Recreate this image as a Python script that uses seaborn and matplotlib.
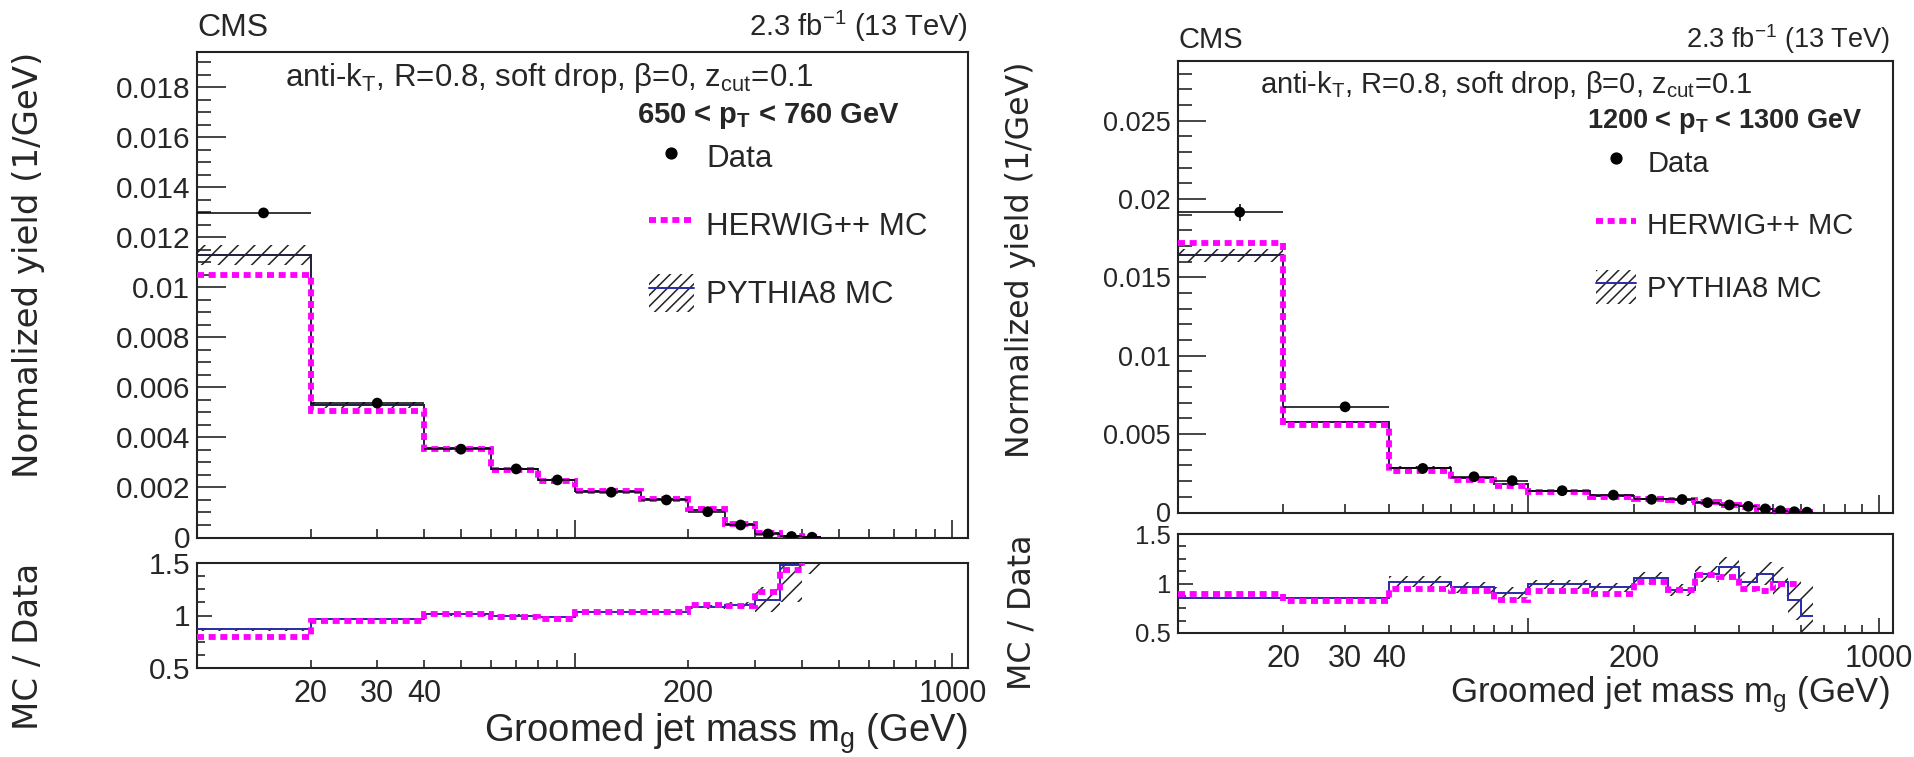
import numpy as np
import matplotlib
matplotlib.use("Agg")
import matplotlib.pyplot as plt
import seaborn as sns
from matplotlib.lines import Line2D
from matplotlib.patches import Patch
from matplotlib.font_manager import FontProperties
from matplotlib.ticker import FixedLocator, FuncFormatter, MultipleLocator, NullFormatter

# ---------------- data ----------------
edges_L = [10, 20, 40, 60, 80, 100, 150, 200, 250, 300, 350, 400, 450]
data_L = [0.01297, 0.00537, 0.00353, 0.00274, 0.00230, 0.00181, 0.00150, 0.00103, 0.00050, 0.00014, 0.00004, 0.00001]
data_err_L = [0.00008, 0.00004, 0.00003, 0.00003, 0.00002, 0.00002, 0.00002, 0.00002, 0.00001, 0.00001, 0.000005, 0.000003]
pythia_L = [0.01130, 0.00530, 0.00356, 0.00274, 0.00228, 0.00186, 0.00155, 0.00111, 0.00055, 0.00016, 0.00006, 0.00003]
pythia_band_L = [0.0004, 0.00012, 0.00005, 0.00004, 0.00004, 0.00003, 0.00003, 0.00003, 0.00002, 0.00002, 0.00001, 0.00001]
herwig_L = [0.01047, 0.00506, 0.00354, 0.00270, 0.00224, 0.00186, 0.00155, 0.00113, 0.00055, 0.00017, 0.00006, 0.00003]
ratio_py_L = [0.87, 0.97, 1.01, 1.00, 0.99, 1.03, 1.03, 1.08, 1.10, 1.15, 1.48, 2.0]
ratio_band_L = [0.015, 0.01, 0.01, 0.01, 0.01, 0.01, 0.01, 0.02, 0.03, 0.12, 0.35, 0.6]
ratio_hw_L = [0.80, 0.95, 1.01, 0.99, 0.97, 1.03, 1.03, 1.10, 1.09, 1.22, 1.43, 2.0]

edges_R = [10, 20, 40, 60, 80, 100, 150, 200, 250, 300, 350, 400, 450, 500, 550, 600, 650]
data_R = [0.01916, 0.00674, 0.00281, 0.00228, 0.00203, 0.00139, 0.00111, 0.00084, 0.00083, 0.00063, 0.00048, 0.00039, 0.00023, 0.00011, 0.00005, 0.00002]
data_err_R = [0.00055, 0.00012, 0.00006, 0.00005, 0.00005, 0.00003, 0.00003, 0.00003, 0.00003, 0.00002, 0.00002, 0.00002, 0.00001, 0.00001, 0.000005, 0.000003]
pythia_R = [0.01640, 0.00578, 0.00287, 0.00219, 0.00183, 0.00138, 0.00107, 0.00089, 0.00077, 0.00069, 0.00056, 0.00040, 0.00025, 0.00011, 0.00004, 0.000013]
pythia_band_R = [0.0004, 0.00008, 0.00008, 0.00006, 0.00005, 0.00004, 0.00003, 0.00003, 0.00003, 0.00003, 0.00003, 0.00002, 0.00002, 0.00001, 0.00001, 0.00001]
herwig_R = [0.01719, 0.00557, 0.00264, 0.00210, 0.00169, 0.00128, 0.00099, 0.00086, 0.00077, 0.00069, 0.00051, 0.00037, 0.00021, 0.00011, 0.00005, 0.00002]
ratio_py_R = [0.85, 0.85, 1.02, 0.96, 0.90, 0.99, 0.96, 1.06, 0.93, 1.10, 1.17, 1.02, 1.10, 1.02, 0.83, 0.67]
ratio_band_R = [0.01, 0.01, 0.06, 0.06, 0.06, 0.05, 0.05, 0.06, 0.06, 0.08, 0.10, 0.10, 0.12, 0.15, 0.20, 0.30]
ratio_hw_R = [0.89, 0.82, 0.94, 0.92, 0.83, 0.92, 0.89, 1.02, 0.93, 1.09, 1.07, 0.94, 0.92, 1.00, 1.00]

xtick_labelled = [20, 30, 40, 200, 1000]
x_major = [100, 1000]
x_minor = [20, 30, 40, 50, 60, 70, 80, 90, 200, 300, 400, 500, 600, 700, 800, 900]

label_ytitle = "Normalized yield (1/GeV)"
label_ratio = "MC / Data"
label_x = "Groomed jet mass m$_\\mathregular{g}$ (GeV)"
label_algo = "anti-k$_\\mathregular{T}$, R=0.8, soft drop, \u03b2=0, z$_\\mathregular{cut}$=0.1"
label_ptL = "650 < p$_\\mathbf{T}$ < 760 GeV"
label_ptR = "1200 < p$_\\mathbf{T}$ < 1300 GeV"
label_lumi = "2.3 fb$^\\mathregular{-1}$ (13 TeV)"
leg_labels = ["Data", "HERWIG++ MC", "PYTHIA8 MC"]

# ---------------- style ----------------
sns.set_style("ticks")
plt.rcParams["font.family"] = ["Liberation Sans", "DejaVu Sans"]
plt.rcParams["mathtext.fontset"] = "custom"
plt.rcParams["mathtext.rm"] = "Liberation Sans"
plt.rcParams["mathtext.it"] = "Liberation Sans:italic"
plt.rcParams["mathtext.bf"] = "Liberation Sans:bold"
plt.rcParams["hatch.linewidth"] = 1.1
plt.rcParams["axes.linewidth"] = 1.5

PINK = "#ff00ff"
BLUE = "#2a2aa8"
PINK_LS = (0, (1.2, 0.8))

W, H = 1915, 757
fig = plt.figure(figsize=(W / 100, H / 100), dpi=100)


def fx(px):
    return px / W


def fy(py):
    return 1 - py / H


def box(x0, x1, ytop, ybot):
    return [fx(x0), fy(ybot), (x1 - x0) / W, (ybot - ytop) / H]


def style_axis(ax, ymaj, ymin_len, xmaj_len, xmin_len, ylab_size, xlab_size, xlabels):
    ax.set_xscale("log")
    ax.set_xlim(10, 1100)
    for s in ["top", "right", "left", "bottom"]:
        ax.spines[s].set_linewidth(1.5)
        ax.spines[s].set_color("#222222")
    ax.xaxis.set_major_locator(FixedLocator(x_major))
    ax.xaxis.set_minor_locator(FixedLocator(x_minor))
    ax.tick_params(axis="x", which="major", direction="in", length=xmaj_len, width=1.2,
                   top=False, bottom=True, labelsize=xlab_size, pad=8)
    ax.tick_params(axis="x", which="minor", direction="in", length=xmin_len, width=1.2,
                   top=False, bottom=True, labelsize=xlab_size, pad=8)
    ax.tick_params(axis="y", which="major", direction="in", length=ymaj, width=1.2,
                   right=False, left=True, labelsize=ylab_size, pad=5)
    ax.tick_params(axis="y", which="minor", direction="in", length=ymin_len, width=1.2,
                   right=False, left=True)
    if xlabels:
        fmt = FuncFormatter(lambda v, p: ("%d" % round(v)) if round(v) in xtick_labelled else "")
        ax.xaxis.set_major_formatter(fmt)
        ax.xaxis.set_minor_formatter(fmt)
    else:
        ax.xaxis.set_major_formatter(NullFormatter())
        ax.xaxis.set_minor_formatter(NullFormatter())
    ax.yaxis.set_major_formatter(FuncFormatter(lambda v, p: "%g" % round(v, 6)))
    ax.grid(False)


def step_ext(vals):
    return list(vals) + [vals[-1]]


def draw_main(ax, edges, data, derr, py, pyband, hw, ymax, ymajor, yminor):
    e = np.array(edges, dtype=float)
    centers = 0.5 * (e[:-1] + e[1:])
    halfw = 0.5 * (e[1:] - e[:-1])
    lo = np.array(py) - np.array(pyband)
    hi = np.array(py) + np.array(pyband)
    ax.fill_between(e, step_ext(lo), step_ext(hi), step="post", facecolor="none",
                    edgecolor="#222222", hatch="//", linewidth=0, zorder=2)
    ax.stairs(py, e, baseline=None, color="#1e1e3c", linewidth=1.4, zorder=3)
    ax.stairs(hw, e, baseline=None, color=PINK, linewidth=4.2, linestyle=PINK_LS, zorder=4)
    ax.errorbar(centers, data, xerr=halfw, yerr=derr, fmt="none", ecolor="black",
                elinewidth=1.1, capsize=0, zorder=5)
    sns.scatterplot(x=centers, y=data, ax=ax, color="black", s=60, edgecolor="none",
                    zorder=6, legend=False)
    ax.set_ylim(0, ymax)
    ax.yaxis.set_major_locator(MultipleLocator(ymajor))
    ax.yaxis.set_minor_locator(MultipleLocator(yminor))
    ax.set_xlabel("")
    ax.set_ylabel("")


def draw_ratio(ax, edges, rpy, rband, rhw):
    e = np.array(edges, dtype=float)
    lo = np.array(rpy) - np.array(rband)
    hi = np.array(rpy) + np.array(rband)
    ax.fill_between(e, step_ext(lo), step_ext(hi), step="post", facecolor="none",
                    edgecolor="#222222", hatch="//", linewidth=0, zorder=2)
    ax.stairs(rpy, e, baseline=None, color=BLUE, linewidth=1.4, zorder=3)
    ax.stairs(rhw, e[:len(rhw) + 1], baseline=None, color=PINK, linewidth=4.2,
              linestyle=PINK_LS, zorder=4)
    ax.set_ylim(0.5, 1.5)
    ax.yaxis.set_major_locator(FixedLocator([0.5, 1.0, 1.5]))
    ax.yaxis.set_minor_locator(MultipleLocator(0.125))


def add_legend(ax, anchor, fsize, hlen, hheight, lspace):
    h_data = Line2D([], [], marker="o", color="black", linestyle="none", markersize=7.8)
    h_hw = Line2D([], [], color=PINK, linestyle=PINK_LS, linewidth=4.2)
    h_py = (Patch(facecolor="none", edgecolor="#222222", hatch="///", linewidth=0),
            Line2D([], [], color=BLUE, linewidth=1.4))
    ax.legend([h_data, h_hw, h_py], leg_labels, loc="upper left", bbox_to_anchor=anchor,
              frameon=False, borderpad=0, borderaxespad=0, handlelength=hlen,
              handleheight=hheight, handletextpad=0.38, labelspacing=lspace,
              prop=FontProperties(family="Liberation Sans", size=fsize))


# ---------------- left panel ----------------
axL = fig.add_axes(box(197, 968, 52, 537.5))
axLr = fig.add_axes(box(197, 968, 563, 668))
draw_main(axL, edges_L, data_L, data_err_L, pythia_L, pythia_band_L, herwig_L,
          0.0194, 0.002, 0.0005)
draw_ratio(axLr, edges_L, ratio_py_L, ratio_band_L, ratio_hw_L)
style_axis(axL, 21, 10, 13, 6.5, 21.5, 21.5, False)
style_axis(axLr, 11, 5.5, 11, 5.5, 21.5, 22, True)
add_legend(axL, (0.586, 0.823), 22.5, 1.45, 1.5, 0.95)

fig.text(fx(197), fy(36), "CMS", ha="left", va="baseline", fontsize=23)
fig.text(fx(968), fy(36), label_lumi, ha="right", va="baseline", fontsize=21)
fig.text(fx(285), fy(86), label_algo, ha="left", va="baseline", fontsize=22.5)
fig.text(fx(637), fy(123), label_ptL, ha="left", va="baseline", fontsize=21, fontweight="bold")
fig.text(fx(29), fy(52), label_ytitle, rotation=90, ha="center", va="top", fontsize=24.5,
         family="DejaVu Sans")
fig.text(fx(29), fy(563), label_ratio, rotation=90, ha="center", va="top", fontsize=24.5,
         family="DejaVu Sans")
fig.text(fx(968), fy(742), label_x, ha="right", va="baseline", fontsize=27.5)

# ---------------- right panel ----------------
axR = fig.add_axes(box(1178, 1893, 61, 512.5))
axRr = fig.add_axes(box(1178, 1893, 534, 633))
draw_main(axR, edges_R, data_R, data_err_R, pythia_R, pythia_band_R, herwig_R,
          0.0288, 0.005, 0.001)
draw_ratio(axRr, edges_R, ratio_py_R, ratio_band_R, ratio_hw_R)
style_axis(axR, 20, 10, 13, 6.5, 19.5, 20, False)
style_axis(axRr, 11, 5.5, 11, 5.5, 18.5, 22, True)
add_legend(axR, (0.585, 0.815), 21, 1.37, 1.45, 0.96)

fig.text(fx(1178), fy(48), "CMS", ha="left", va="baseline", fontsize=21)
fig.text(fx(1890), fy(48), label_lumi, ha="right", va="baseline", fontsize=19.5)
fig.text(fx(1260), fy(93), label_algo, ha="left", va="baseline", fontsize=21)
fig.text(fx(1587), fy(128), label_ptR, ha="left", va="baseline", fontsize=19.5, fontweight="bold")
fig.text(fx(1021), fy(61), label_ytitle, rotation=90, ha="center", va="top", fontsize=22.8,
         family="DejaVu Sans")
fig.text(fx(1022), fy(534), label_ratio, rotation=90, ha="center", va="top", fontsize=22.8,
         family="DejaVu Sans")
fig.text(fx(1890), fy(702), label_x, ha="right", va="baseline", fontsize=25)

fig.savefig("out.png", dpi=100)
